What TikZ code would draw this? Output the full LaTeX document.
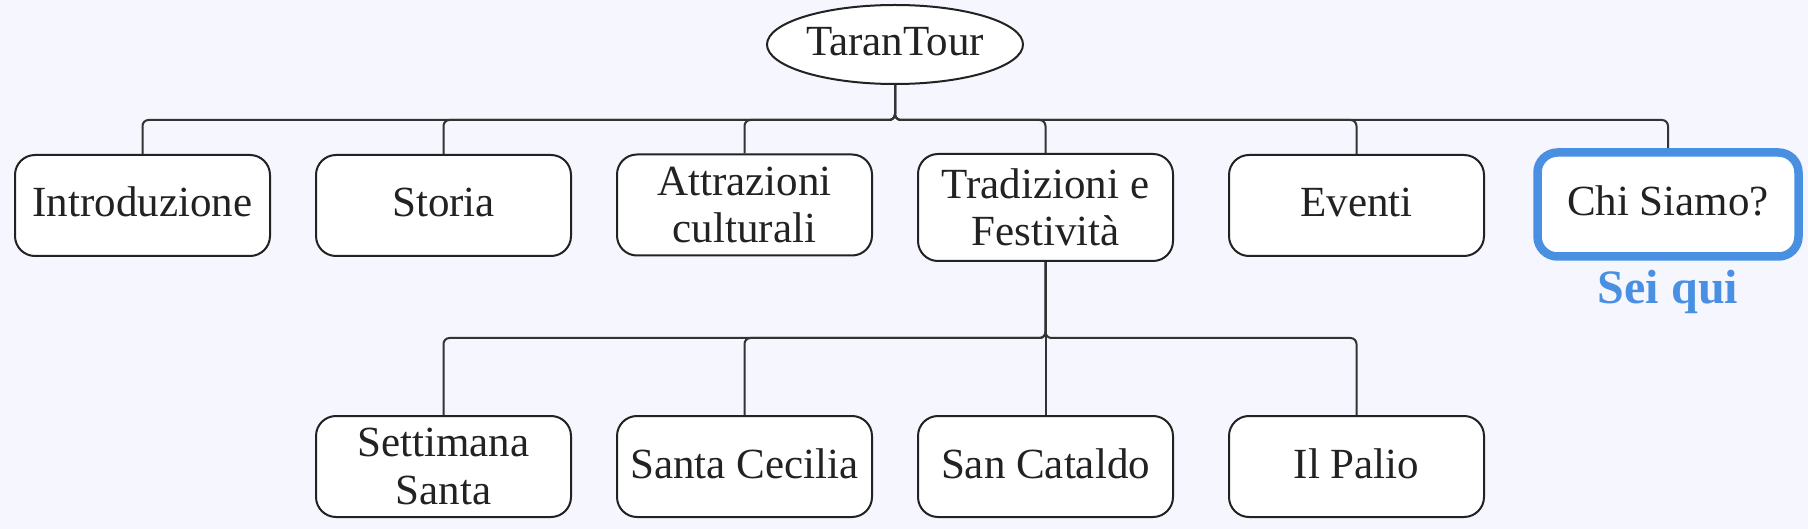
\documentclass[tikz,border=0pt]{standalone}
\usepackage{fontspec}
\setmainfont{Liberation Serif}
\usetikzlibrary{shapes.geometric}
\definecolor{bg}{HTML}{F5F6FE}
\definecolor{accent}{HTML}{4A90E2}
\definecolor{ink}{HTML}{222222}
\definecolor{wire}{HTML}{333333}
\begin{document}
\begin{tikzpicture}[x=1pt,y=-1pt,
  txt/.style={text=ink, font=\fontsize{43}{47.5}\selectfont},
  box/.style={txt, draw=ink, fill=white, line width=2pt, rounded corners=20pt,
    minimum width=255pt, minimum height=101pt, inner sep=0pt, align=center},
  one/.style={text height=29pt, text depth=6pt},
  here/.style={box, draw=accent, line width=8.5pt, minimum width=261pt, minimum height=104pt},
  link/.style={draw=wire, line width=2pt, rounded corners=6pt}]
\fill[bg] (0,0) rectangle (1808,529);
\useasboundingbox (0,0) rectangle (1808,529);
% root
\node[txt, one, ellipse, draw=ink, fill=white, line width=2pt, minimum width=256pt,
  minimum height=79pt, inner sep=0pt] (root) at (895,44.5) {TaranTour};
% first level
\node[box, one] (intro) at (142.5,205.5) {Introduzione};
\node[box, one] (storia) at (443.5,205.5) {Storia};
\node[box] (attr) at (744.5,205) {Attrazioni\\culturali};
\node[box, minimum height=107pt] (trad) at (1045.5,207.5) {Tradizioni e\\Festività};
\node[box, one] (eventi) at (1356.5,205.5) {Eventi};
\node[here, one] (chi) at (1668,204.5) {Chi Siamo?};
\node[anchor=base, text=accent, font=\bfseries\fontsize{48}{50}\selectfont] (sei) at (1668,304) {Sei qui};
% second level
\node[box] (sett) at (443.5,466.5) {Settimana\\Santa};
\node[box, one] (cec) at (744.5,466.5) {Santa Cecilia};
\node[box, one] (cat) at (1045.5,466.5) {San Cataldo};
\node[box, one] (palio) at (1356.5,466.5) {Il Palio};
% connectors
\coordinate (bus1) at (0,120);
\coordinate (bus2) at (0,338);
\foreach \c in {intro,storia,attr,trad,eventi}
  \draw[link] (root.south) -- (root.south |- bus1) -| (\c.north);
\draw[link] (root.south) -- (root.south |- bus1) -| (chi.north);
\foreach \c in {sett,cec,palio}
  \draw[link] (trad.south) -- (trad.south |- bus2) -| (\c.north);
\draw[link] (trad.south) -- (cat.north);
\end{tikzpicture}
\end{document}
